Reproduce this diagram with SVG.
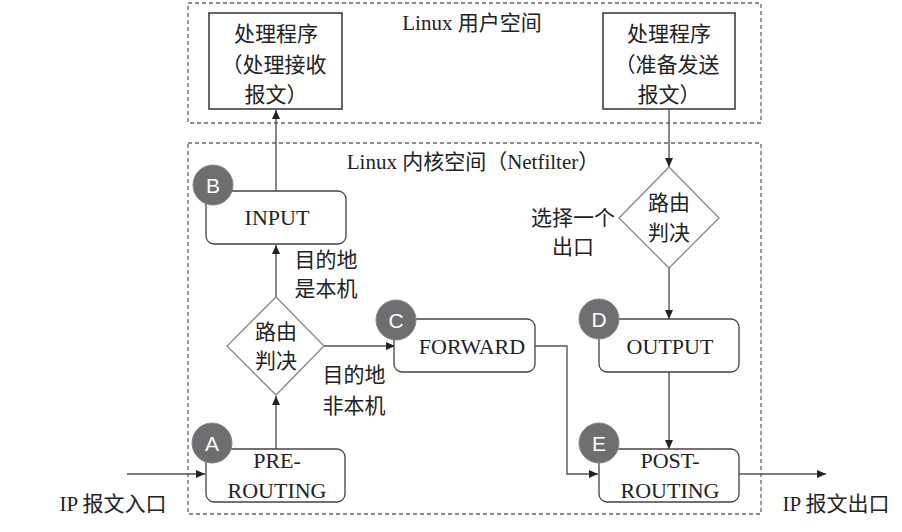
<svg xmlns="http://www.w3.org/2000/svg" width="902" height="532" viewBox="0 0 902 532">
<style>
.zone{fill:none;stroke:#666;stroke-width:1.3;stroke-dasharray:4,3}
.ubox{fill:#fff;stroke:#333;stroke-width:1.5}
.hook{fill:#fff;stroke:#444;stroke-width:1.3}
.dia{fill:#fff;stroke:#888;stroke-width:1.3}
.badge{fill:#6e6e70;stroke:#888;stroke-width:1}
.bl{font-family:"Liberation Sans",Arial,sans-serif;font-size:21px;fill:#fff;text-anchor:middle}
.t{font-family:"Liberation Serif","Noto Sans CJK SC",serif;font-size:21px;fill:#222;text-anchor:middle}
.n{font-size:22px}
.ln{fill:none;stroke:#555;stroke-width:1.4}
</style>
<defs>
<marker id="ah" markerUnits="userSpaceOnUse" markerWidth="10" markerHeight="8" refX="9" refY="4" orient="auto">
<path d="M0,0 L9,4 L0,8 Z" fill="#222"/>
</marker>
</defs>
<g id="user-space">
<rect class="zone" x="188" y="3" width="573" height="120"/>
<text class="t" x="472" y="30">Linux 用户空间</text>
</g>
<g id="kernel-space">
<rect class="zone" x="188" y="143" width="573" height="371"/>
<text class="t" x="473" y="169">Linux 内核空间（Netfilter）</text>
</g>
<g id="connectors">
<line class="ln" x1="276" y1="192" x2="276" y2="110" marker-end="url(#ah)"/>
<line class="ln" x1="276" y1="297" x2="276" y2="245" marker-end="url(#ah)"/>
<line class="ln" x1="276" y1="449" x2="276" y2="396" marker-end="url(#ah)"/>
<line class="ln" x1="324" y1="346" x2="395" y2="346" marker-end="url(#ah)"/>
<line class="ln" x1="127" y1="474" x2="205" y2="474" marker-end="url(#ah)"/>
<polyline class="ln" points="535,346 567,346 567,474 598,474" marker-end="url(#ah)"/>
<line class="ln" x1="669" y1="109" x2="669" y2="167" marker-end="url(#ah)"/>
<line class="ln" x1="669" y1="268" x2="669" y2="319" marker-end="url(#ah)"/>
<line class="ln" x1="669" y1="372" x2="669" y2="449" marker-end="url(#ah)"/>
<line class="ln" x1="739" y1="474" x2="826" y2="474" marker-end="url(#ah)"/>
</g>
<g id="recv-proc">
<rect class="ubox" x="209" y="13" width="133" height="96"/>
<text class="t" x="276" y="41">处理程序</text>
<text class="t" x="274" y="72">（处理接收</text>
<text class="t" x="276" y="102">报文）</text>
</g>
<g id="send-proc">
<rect class="ubox" x="603" y="13" width="132" height="96"/>
<text class="t" x="669" y="41">处理程序</text>
<text class="t" x="667" y="72">（准备发送</text>
<text class="t" x="669" y="102">报文）</text>
</g>
<g id="input">
<rect class="hook" x="206" y="191" width="140" height="53" rx="8"/>
<circle class="badge" cx="213" cy="185" r="20"/>
<text class="bl" x="213" y="193">B</text>
<text class="t n" x="277" y="225">INPUT</text>
</g>
<g id="route1">
<polygon class="dia" points="276,297 324,346 276,395 227,346"/>
<text class="t" x="276" y="339">路由</text>
<text class="t" x="276" y="368">判决</text>
</g>
<g id="forward">
<rect class="hook" x="394" y="319" width="141" height="53" rx="8"/>
<circle class="badge" cx="396" cy="320" r="20"/>
<text class="bl" x="396" y="328">C</text>
<text class="t n" x="472" y="354">FORWARD</text>
</g>
<g id="prerouting">
<rect class="hook" x="206" y="449" width="139" height="53" rx="8"/>
<circle class="badge" cx="212" cy="443" r="20"/>
<text class="bl" x="212" y="451">A</text>
<text class="t n" x="277" y="468">PRE-</text>
<text class="t n" x="277" y="498">ROUTING</text>
</g>
<g id="route2">
<polygon class="dia" points="669,167 719,218 669,268 619,218"/>
<text class="t" x="669" y="210">路由</text>
<text class="t" x="669" y="240">判决</text>
</g>
<g id="output">
<rect class="hook" x="599" y="319" width="140" height="53" rx="8"/>
<circle class="badge" cx="599" cy="319" r="20"/>
<text class="bl" x="599" y="327">D</text>
<text class="t n" x="670" y="354">OUTPUT</text>
</g>
<g id="postrouting">
<rect class="hook" x="599" y="449" width="140" height="53" rx="8"/>
<circle class="badge" cx="599" cy="443" r="20"/>
<text class="bl" x="599" y="451">E</text>
<text class="t n" x="670" y="468">POST-</text>
<text class="t n" x="670" y="498">ROUTING</text>
</g>
<g id="labels">
<text class="t" x="326" y="267">目的地</text>
<text class="t" x="326" y="296">是本机</text>
<text class="t" x="354" y="382">目的地</text>
<text class="t" x="354" y="413">非本机</text>
<text class="t" x="573" y="225">选择一个</text>
<text class="t" x="573" y="254">出口</text>
<text class="t" x="113" y="511">IP 报文入口</text>
<text class="t" x="836" y="511">IP 报文出口</text>
</g>
</svg>
